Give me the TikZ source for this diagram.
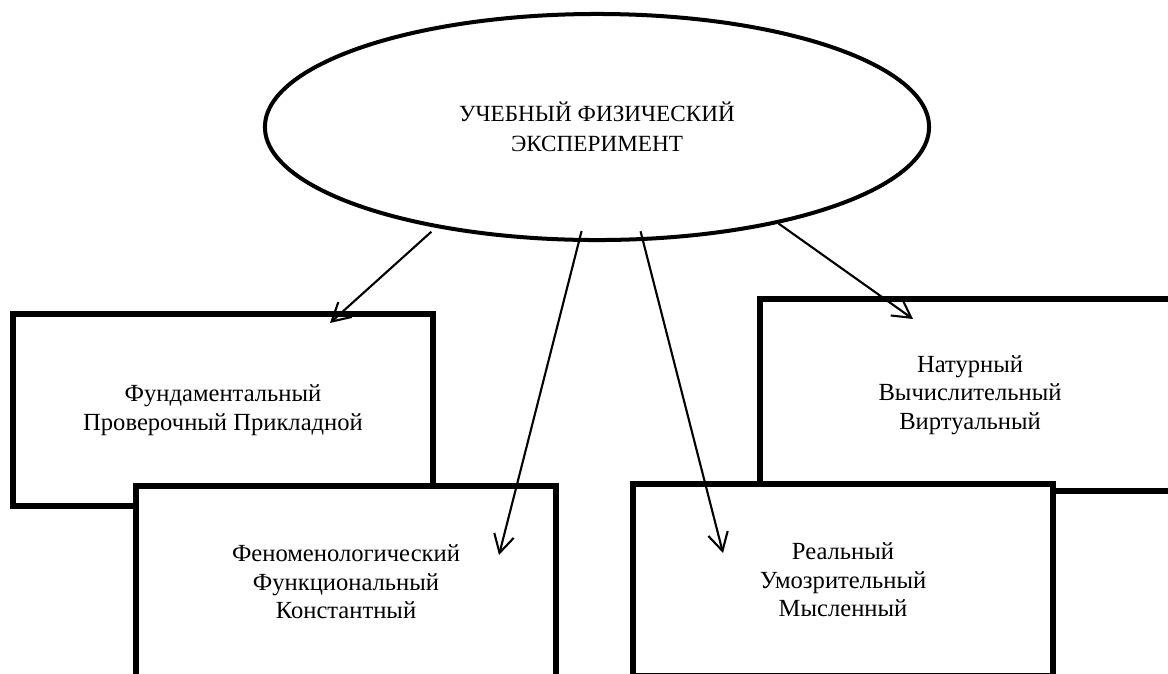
\documentclass[tikz,border=0pt]{standalone}
\usepackage{fontspec}
\setmainfont{Liberation Serif}
\usetikzlibrary{shapes.geometric, arrows.meta}

\begin{document}
\begin{tikzpicture}[x=0.025cm, y=-0.025cm,
		blok/.style={draw, line width=3.9pt, fill=white, minimum width=10.5cm, minimum height=4.8cm, align=center, font=\fontsize{17.5}{20.3}\selectfont},
		strelka/.style={line width=1.5pt, -{Straight Barb[length=0.45cm, width=0.5cm]}}]
	\clip (0,0) rectangle (1168,673);
	\fill[white] (0,0) rectangle (1168,673);

	\coordinate (E) at (597,127);
	\coordinate (t1) at (330,323);
	\coordinate (t2) at (499,555);
	\coordinate (t3) at (723,553);
	\coordinate (t4) at (913,319);

	\node[blok] (vid) at (223,410) {Фундаментальный\\Проверочный Прикладной};
	\node[blok] (sreda) at (970,395) {Натурный\\Вычислительный\\Виртуальный};
	\node[blok] (cel) at (346,582) {Феноменологический\\Функциональный\\Константный};
	\node[blok] (forma) at (843,580) {Реальный\\Умозрительный\\Мысленный};

	\node[ellipse, draw, line width=2.85pt, minimum width=16.6cm, minimum height=5.65cm, inner sep=0pt, align=center, font=\fontsize{16.5}{21.3}\selectfont] (exp) at (E) {УЧЕБНЫЙ ФИЗИЧЕСКИЙ\\ЭКСПЕРИМЕНТ};

	\draw[strelka, shorten <=0.15cm] (exp.212) -- (t1);
	\draw[strelka, shorten <=-0.28cm] (exp.261) -- (t2);
	\draw[strelka, shorten <=-0.25cm] (exp.292) -- (t3);
	\draw[strelka] (exp.332) -- (t4);
\end{tikzpicture}
\end{document}
